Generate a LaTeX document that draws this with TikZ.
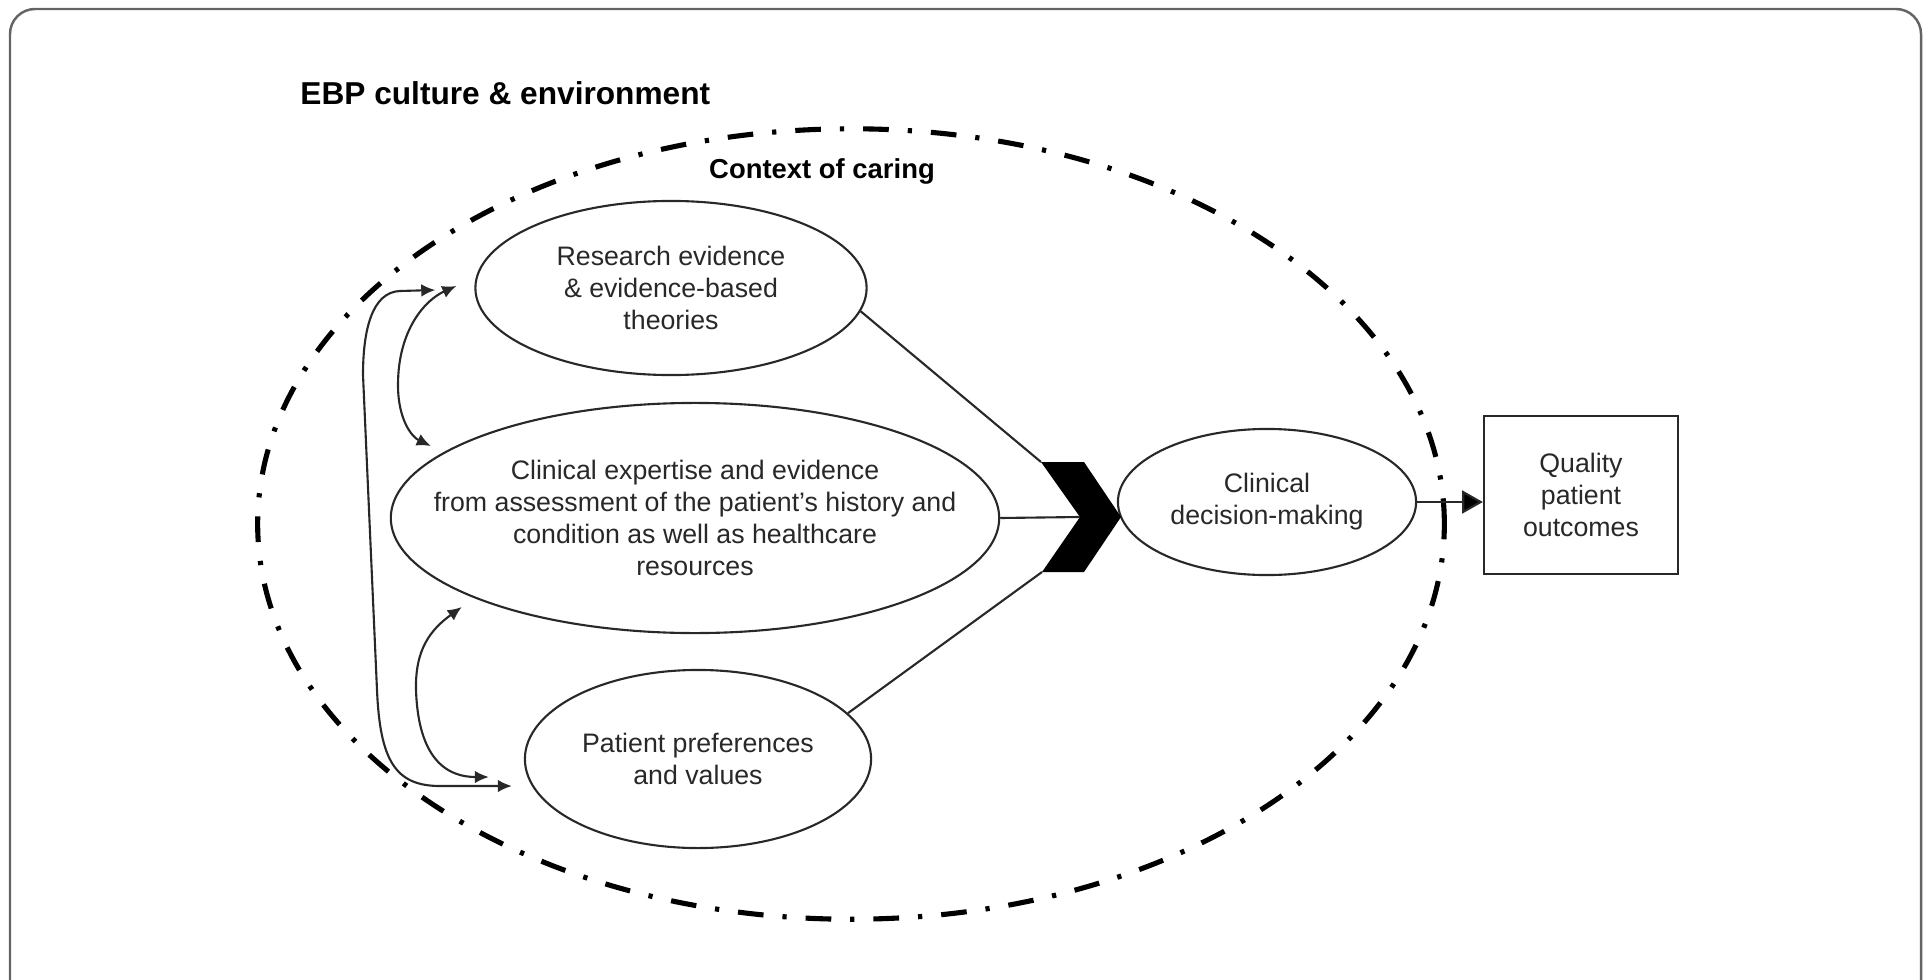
\documentclass[tikz,border=0pt]{standalone}
\usepackage{fontspec}
\setmainfont{Liberation Sans}
\usetikzlibrary{shapes.geometric, arrows.meta, calc}

\definecolor{framegray}{RGB}{100,100,100}
\definecolor{inkgray}{RGB}{40,40,40}

\tikzstyle{bubble} = [
    ellipse,
    inner sep=0pt,
    draw=inkgray,
    line width=0.6pt
]
\tikzstyle{outcome} = [
    rectangle,
    minimum width=1.94cm,
    minimum height=1.58cm,
    align=center,
    text=inkgray,
    font=\fontsize{7.6}{9.1}\selectfont,
    draw=inkgray,
    line width=0.6pt
]
\tikzstyle{context} = [
    ellipse,
    inner sep=0pt,
    minimum width=11.86cm,
    minimum height=7.90cm,
    draw=black,
    line width=1.45pt,
    dash pattern=on 7.3pt off 5.4pt on 1.2pt off 5.4pt
]
\tikzstyle{bodytext} = [align=center, text=inkgray, font=\fontsize{7.6}{9.1}\selectfont]
\tikzstyle{heading} = [font=\bfseries\fontsize{9}{11}\selectfont]
\tikzstyle{subheading} = [font=\bfseries\fontsize{7.8}{9.4}\selectfont]
\tikzstyle{link} = [draw=inkgray, line width=0.6pt]
\tikzstyle{biarrow} = [link, {Latex[length=4pt,width=3.6pt]}-{Latex[length=4pt,width=3.6pt]}]
\tikzstyle{arrow} = [link, -{Triangle[length=5.9pt,width=6.5pt,fill=black]}]

\begin{document}
\begin{tikzpicture}[x=0.01cm, y=-0.01cm]

\useasboundingbox (0,0) rectangle (1928,979);
\clip (0,0) rectangle (1928,979);

% outer frame
\draw[framegray, line width=0.7pt, rounded corners=0.25cm] (10,9) rectangle (1921,1010);

\node (culture) [heading, anchor=west] at (288,93) {EBP culture \& environment};

\node (context) [context] at (851,524) {};
\node (caring) [subheading] at (822,171) {Context of caring};

\node (research) [bubble, minimum width=3.91cm, minimum height=1.74cm] at (671,288) {};
\node (research-txt) [bodytext] at (research)
{Research evidence\\\& evidence-based\\theories};

\node (expert) [bubble, minimum width=6.08cm, minimum height=2.30cm] at (695,518) {};
\node (expert-txt) [bodytext] at (expert)
{Clinical expertise and evidence\\from assessment of the patient’s history and\\condition as well as healthcare\\resources};

\node (patient) [bubble, minimum width=3.46cm, minimum height=1.78cm] at (698,759) {};
\node (patient-txt) [bodytext] at (patient)
{Patient preferences\\and values};

\node (decision) [bubble, minimum width=2.98cm, minimum height=1.46cm] at (1267,502) {};
\node (decision-txt) [bodytext] at (decision)
{Clinical\\decision-making};

\node (quality) [outcome] at (1581,495)
{Quality\\patient\\outcomes};

% chevron
\coordinate (notch) at (1080,517);
\coordinate (chev-top) at ($(notch)+(-39,-55)$);
\coordinate (chev-bot) at ($(notch)+(-38,55)$);
\fill[black] (chev-top) -- ($(notch)+(4,-55)$) -- ($(notch)+(41,0)$)
    -- ($(notch)+(4,55)$) -- (chev-bot) -- (notch) -- cycle;

\draw [link] (research.-7) -- (chev-top);
\draw [link] (expert.east) -- (notch);
\draw [link] (patient.17) -- (chev-bot);
\draw [arrow] (decision.east) -- (decision.east -| quality.west);

% links between the three sources
\coordinate (a-top) at ($(research.west)+(-39,2)$);
\coordinate (a-bot) at ($(patient.west)+(-12,27)$);
\coordinate (b-top) at ($(research.west)+(-18,-2)$);
\coordinate (b-bot) at ($(expert.west)+(41,-72)$);
\coordinate (c-top) at ($(expert.west)+(72,89)$);
\coordinate (c-bot) at ($(patient.west)+(-35,18)$);

\draw [biarrow] (a-top) -- (400,291) .. controls (372,292) and (363,330) .. (363,375)
    -- (377,690) .. controls (380,760) and (395,786) .. (440,786) -- (a-bot);
\draw [biarrow] (b-top) .. controls (425,300) and (398,330) .. (398,385)
    .. controls (398,420) and (412,437) .. (b-bot);
\draw [biarrow] (c-top) .. controls (430,630) and (415,650) .. (416,690)
    .. controls (418,750) and (440,777) .. (c-bot);

\end{tikzpicture}
\end{document}
